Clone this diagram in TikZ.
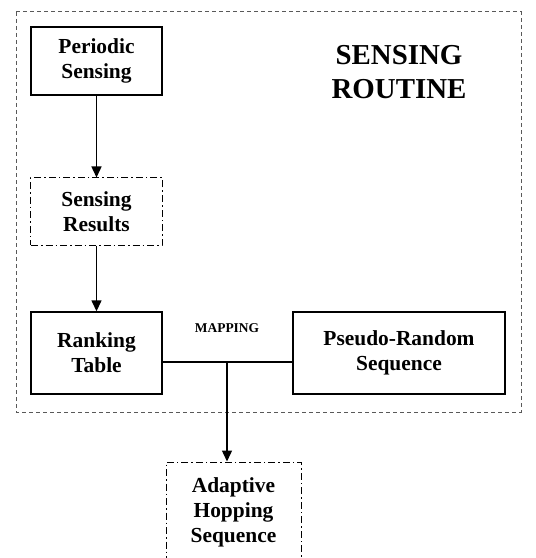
\documentclass[tikz,border=0pt]{standalone}
\usepackage{fontspec}
\setmainfont{Liberation Serif}
\usepackage{tikz}
\usetikzlibrary{arrows.meta,positioning}

\begin{document}
\begin{tikzpicture}[x=1bp, y=-1bp,
  blk/.style={draw, line width=1.4bp, align=center, font=\fontsize{21.5}{25}\selectfont\bfseries},
  dotblk/.style={blk, line width=1bp, dash pattern=on 7bp off 3bp on 1.5bp off 3bp},
  arr/.style={line width=1.4bp, -{Triangle[length=11bp,width=10bp]}}]
\useasboundingbox (0,0) rectangle (536,558);
\clip (0,0) rectangle (536,558);

% outer routine frame
\draw [line width=1bp, gray!70!black, dash pattern=on 4bp off 3bp] (16,12) rectangle (521,412);
\node [font=\fontsize{29}{34}\selectfont\bfseries, align=center] (title) at (399,72) {SENSING\\ROUTINE};

\node [blk, minimum width=131bp, minimum height=68bp] (periodic) at (96.5,61) {Periodic\\Sensing};
\node [dotblk, minimum width=131bp, minimum height=67bp] (results) at (96.5,211.5) {Sensing\\Results};
\node [blk, minimum width=131bp, minimum height=82bp] (ranking) at (96.5,353) {Ranking\\Table};
\node [blk, minimum width=212bp, minimum height=82bp] (prand) at (399,353) {Pseudo-Random\\Sequence};
\node [dotblk, minimum width=135bp, minimum height=100bp] (adaptive) at (233.5,512) {Adaptive\\Hopping\\Sequence};

\node [font=\fontsize{13.5}{15}\selectfont\bfseries] (mapping) at (227,328) {MAPPING};
\coordinate (jn) at (227,362);

\draw [arr] (periodic) -- (results);
\draw [arr] (results) -- (ranking);
\draw [line width=1.4bp] (ranking.east |- jn) -- (prand.west |- jn);
\draw [arr] (jn) -- (jn |- adaptive.north);
\end{tikzpicture}
\end{document}
